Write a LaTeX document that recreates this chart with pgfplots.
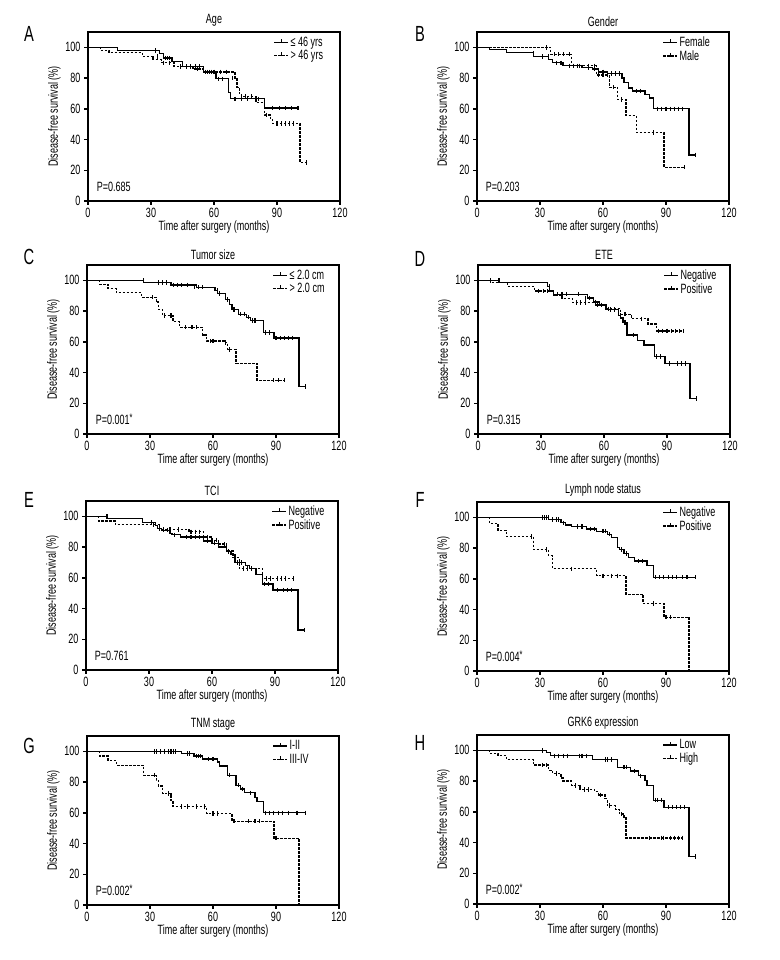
\documentclass[border=0pt]{standalone}
\usepackage{pgfplots}
\pgfplotsset{compat=1.18}
\usepackage{fontspec}
\setmainfont{Liberation Sans}[FakeStretch=0.67]
\newcommand\fs{\fontsize{13.5}{14.5}\selectfont}
\newcommand\sig{\raisebox{3bp}{\fontsize{11}{11}\selectfont *}}
\pgfplotsset{
  legend image code/.code={\draw[#1, line width=1.3bp] (0bp,0bp) -- (14bp,0bp);
    \draw[solid, line width=1.1bp] (7bp,-0.5bp) -- (7bp,3.5bp);},
  km/.style={scale only axis, width=252bp, height=169bp,
    xmin=0, xmax=120, ymin=0, ymax=110,
    xtick={0,30,60,90,120}, ytick={0,20,40,60,80,100},
    tick align=outside, xtick pos=left, ytick pos=left,
    major tick length=4bp,
    axis line style={line width=1.4bp},
    tick style={line width=1.4bp, black},
    xlabel={Time after surgery (months)},
    ylabel={Disease-free survival (\%)},
    label style={font=\fs},
    tick label style={font=\fs},
    xlabel style={yshift=4bp},
    ylabel style={yshift=-2bp},
    /pgf/number format/assume math mode=true,
    title style={font=\fs, inner sep=1bp, yshift=-1.5bp},
    legend style={at={(0.735,0.985)}, anchor=north west, draw=none, fill=none,
      font=\fs, inner sep=0bp, row sep=-1.5bp},
    legend cell align=left},
  sline/.style={const plot, black, line width=1.3bp},
  dline/.style={const plot, black, line width=1.3bp, dash pattern=on 2.5bp off 1.5bp},
  cens/.style={only marks, mark=|, mark size=2.2bp, black, mark options={solid, line width=1.1bp}, forget plot}
}
\begin{document}
\begin{tikzpicture}
\path[use as bounding box] (0,0) rectangle (780bp,960bp);
% ---------------- A
\begin{axis}[km, at={(88bp,759bp)}, anchor=south west, title={Age}]
\addplot[sline] coordinates {(0,100) (14,98) (34,96) (36,93) (40,91) (45,87.5) (55,84) (61,79.5) (67,70.5) (68,66.5) (84,60.5) (100,60.5)};
\addlegendentry{≤ 46 yrs}
\addplot[dline] coordinates {(0,100) (6,98) (10,96.5) (26,94) (31,92) (35,90) (41,87.5) (50,86) (55,84) (70,80) (71,74) (72,70) (73,68) (80,64) (84,56) (87,53) (88,50.5) (101,25) (104,25)};
\addlegendentry{> 46 yrs}
\addplot[cens] coordinates {(32,98) (37,93) (38,93) (39,93) (47,87.5) (49,87.5) (51,87.5) (53,87.5) (57,84) (59,84) (62,79.5) (64,79.5) (70,66.5) (73,66.5) (76,66.5) (81,66.5) (88,60.5) (91,60.5) (94,60.5) (97,60.5) (100,60.5)};
\addplot[cens] coordinates {(33,94) (36,90) (39,90) (44,87.5) (47,87.5) (49,87.5) (52,86) (56,84) (58,84) (60,84) (63,84) (66,84) (69,80) (75,68) (78,68) (85,56) (90,50.5) (92,50.5) (94,50.5) (96,50.5) (98,50.5) (104,25)};
\node[anchor=base west, font=\fs] at (axis cs:2.5,6) {P=0.685};
\end{axis}
% ---------------- B
\begin{axis}[km, at={(477bp,759bp)}, anchor=south west, title={Gender}]
\addplot[sline] coordinates {(0,100) (6,98.5) (14,96.5) (27,94) (34,92) (36,90) (41,88) (50,87) (55,86) (58,84) (62,83) (69,80) (70,77) (72,73.5) (74,71.5) (80,69.5) (82,67) (84,60) (101,30) (104,30)};
\addlegendentry{Female}
\addplot[dline] coordinates {(0,100) (35,95.5) (45,88) (57,82) (63,74) (67,66) (71,55.5) (76,44.5) (89,22) (99,22)};
\addlegendentry{Male}
\addplot[cens] coordinates {(27,96) (31,94) (34,94) (38,90) (40,90) (44,88) (46,88) (49,88) (53,87) (56,86) (60,84) (64,83) (66,83) (68,83) (76,71.5) (78,71.5) (86,60) (88,60) (90,60) (92,60) (94,60) (96,60) (98,60) (104,30)};
\addplot[cens] coordinates {(33,100) (37,95.5) (39,95.5) (41,95.5) (44,95.5) (48,88) (53,88) (56,88) (58,82) (60,82) (62,82) (65,74) (69,66) (84,44.5) (99,22)};
\node[anchor=base west, font=\fs] at (axis cs:2.5,6) {P=0.203};
\end{axis}
% ---------------- C
\begin{axis}[km, at={(87bp,526bp)}, anchor=south west, title={Tumor size}]
\addplot[sline] coordinates {(0,100) (27,98.5) (40,97) (52,95.5) (61,93.5) (62,91.5) (66,87.5) (68,84.5) (69,81) (72,78) (76,76) (78,74) (84,66) (89,62.5) (101,31) (104,31)};
\addlegendentry{≤ 2.0 cm}
\addplot[dline] coordinates {(0,100) (6,97.5) (10,94.5) (14,92) (26,89) (33,86) (34,81) (36,77) (41,73) (44,69.5) (55,64.5) (57,60.5) (66,59.5) (67,55) (71,46) (81,35) (94,35)};
\addlegendentry{> 2.0 cm}
\addplot[cens] coordinates {(27,100) (34,98.5) (36,98.5) (38,98.5) (41,97) (43,97) (45,97) (48,97) (51,95.5) (53,95.5) (55,95.5) (62,93.5) (63,91.5) (67,87.5) (70,81) (73,78) (75,78) (77,76) (79,74) (80,74) (85,66) (87,66) (90,62.5) (92,62.5) (94,62.5) (96,62.5) (98,62.5) (104,31)};
\addplot[cens] coordinates {(31,89) (37,77) (40,77) (47,69.5) (50,69.5) (52,69.5) (59,60.5) (60,60.5) (66,59.5) (68,55) (89,35) (91,35) (94,35)};
\node[anchor=base west, font=\fs] at (axis cs:2.5,6) {P=0.001\sig};
\end{axis}
% ---------------- D
\begin{axis}[km, at={(478bp,526bp)}, anchor=south west, title={ETE}]
\addplot[sline] coordinates {(0,100) (10,98.5) (33,96) (34,93) (36,91) (52,88.5) (55,86) (58,84) (61,81) (67,77) (68,75.5) (69,72.5) (71,64.5) (76,61) (79,58) (84,50.5) (89,46) (101,23) (104,23)};
\addlegendentry{Negative}
\addplot[dline] coordinates {(0,100) (6,98.5) (14,96) (27,93) (36,90.5) (40,88) (45,85.5) (56,84) (61,81.5) (68,78) (73,75) (81,71.5) (85,67) (98,67)};
\addlegendentry{Positive}
\addplot[cens] coordinates {(10,100) (34,96) (38,91) (40,91) (42,91) (48,91) (51,88.5) (53,88.5) (56,86) (63,81) (65,81) (68,77) (70,72.5) (74,64.5) (85,50.5) (87,50.5) (91,46) (95,46) (97,46) (99,46) (104,23)};
\addplot[cens] coordinates {(6,100) (29,93) (31,93) (33,93) (47,85.5) (49,85.5) (51,85.5) (57,84) (59,84) (62,81.5) (70,78) (78,75) (86,67) (88,67) (90,67) (92,67) (94,67) (96,67) (98,67)};
\node[anchor=base west, font=\fs] at (axis cs:2.5,6) {P=0.315};
\end{axis}
% ---------------- E
\begin{axis}[km, at={(86bp,290bp)}, anchor=south west, title={TCI}]
\addplot[sline] coordinates {(0,100) (10,98.5) (27,96) (33,94) (34,92) (36,91) (40,89) (41,88) (45,86.5) (56,84) (60,82.5) (63,80) (67,77) (69,75) (71,70) (76,68) (78,66) (81,62) (84,56) (89,52) (101,26) (104,26)};
\addlegendentry{Negative}
\addplot[dline] coordinates {(0,100) (6,97) (14,94.5) (35,91.5) (49,90) (56,86.5) (60,84.5) (63,82) (67,77.5) (70,73) (73,66) (84,59.5) (99,59.5)};
\addlegendentry{Positive}
\addplot[cens] coordinates {(10,100) (31,96) (35,92) (37,91) (39,91) (42,88) (48,86.5) (50,86.5) (52,86.5) (54,86.5) (58,84) (61,82.5) (68,77) (72,70) (74,70) (85,56) (87,56) (91,52) (94,52) (96,52) (98,52) (104,26)};
\addplot[cens] coordinates {(32,94.5) (37,91.5) (40,91.5) (44,91.5) (50,90) (52,90) (54,90) (58,86.5) (62,84.5) (66,82) (75,66) (77,66) (79,66) (86,59.5) (88,59.5) (91,59.5) (93,59.5) (95,59.5) (99,59.5)};
\node[anchor=base west, font=\fs] at (axis cs:2.5,6) {P=0.761};
\end{axis}
% ---------------- F
\begin{axis}[km, at={(477bp,289bp)}, anchor=south west, title={Lymph node status}]
\addplot[sline] coordinates {(0,100) (34,98.5) (40,96.5) (42,95) (45,94) (52,92.5) (57,91) (62,89) (64,87) (67,80.5) (68,79) (70,76.5) (72,74) (75,71.5) (81,68.5) (84,61) (104,61)};
\addlegendentry{Negative}
\addplot[dline] coordinates {(0,100) (6,96) (10,91.5) (14,87.5) (27,79) (34,75) (36,66.5) (57,62) (71,50) (79,44) (89,35) (101,0) (101,0)};
\addlegendentry{Positive}
\addplot[cens] coordinates {(31,100) (32,100) (33,100) (34,100) (36,98.5) (38,98.5) (39,98.5) (41,96.5) (48,94) (50,94) (54,92.5) (56,92.5) (60,91) (61,91) (63,89) (69,79) (71,76.5) (77,71.5) (79,71.5) (85,61) (87,61) (89,61) (91,61) (93,61) (95,61) (98,61) (100,61) (104,61)};
\addplot[cens] coordinates {(26,87.5) (33,79) (45,66.5) (60,62) (64,62) (67,62) (84,44) (90,35) (92,35)};
\node[anchor=base west, font=\fs] at (axis cs:2.5,6) {P=0.004\sig};
\end{axis}
% ---------------- G
\begin{axis}[km, at={(87bp,55bp)}, anchor=south west, title={TNM stage}]
\addplot[sline] coordinates {(0,100) (45,98.5) (51,97) (55,95) (62,93) (63,90.5) (67,84.5) (71,78) (73,75.5) (75,73) (80,70) (81,67.5) (84,60) (104,60)};
\addlegendentry{I-II}
\addplot[dline] coordinates {(0,100) (6,97) (10,94) (14,91) (27,84.5) (33,81) (34,77.5) (36,72.5) (40,68) (41,64) (57,59.5) (69,54.5) (89,43.5) (101,0) (101,0)};
\addlegendentry{III-IV}
\addplot[cens] coordinates {(32,100) (33,100) (35,100) (37,100) (39,100) (40,100) (41,100) (42,100) (48,98.5) (49,98.5) (52,97) (53,97) (54,97) (58,95) (60,95) (68,84.5) (72,78) (74,75.5) (78,73) (85,60) (87,60) (89,60) (91,60) (93,60) (96,60) (100,60) (104,60)};
\addplot[cens] coordinates {(32,84.5) (39,72.5) (45,64) (48,64) (52,64) (56,64) (60,59.5) (62,59.5) (70,54.5) (77,54.5) (80,54.5) (82,54.5) (90,43.5)};
\node[anchor=base west, font=\fs] at (axis cs:2.5,6) {P=0.002\sig};
\end{axis}
% ---------------- H
\begin{axis}[km, at={(477bp,56bp)}, anchor=south west, title={GRK6 expression}]
\addplot[sline] coordinates {(0,100) (33,98.5) (35,96.5) (55,94) (67,89) (73,86.5) (77,83.5) (80,80.5) (81,77) (84,67.5) (89,63) (101,31) (104,31)};
\addlegendentry{Low}
\addplot[dline] coordinates {(0,100) (6,98) (10,96.5) (14,94) (27,90.5) (34,87) (36,85) (40,82) (41,80) (45,77) (49,74.5) (56,73) (58,71) (61,68.5) (62,64) (66,61.5) (68,58.5) (70,56) (71,43) (98,43)};
\addlegendentry{High}
\addplot[cens] coordinates {(31,100) (37,96.5) (39,96.5) (41,96.5) (43,96.5) (49,96.5) (50,96.5) (52,96.5) (61,94) (62,94) (64,94) (70,89) (71,89) (75,86.5) (78,83.5) (85,67.5) (86,67.5) (88,67.5) (91,63) (93,63) (95,63) (97,63) (99,63) (104,31)};
\addplot[cens] coordinates {(31,90.5) (33,90.5) (38,85) (47,77) (51,74.5) (53,74.5) (59,71) (63,64) (69,58.5) (82,43) (88,43) (89,43) (92,43) (94,43) (96,43) (98,43)};
\node[anchor=base west, font=\fs] at (axis cs:2.5,6) {P=0.002\sig};
\end{axis}
% panel letters
\node[font=\fontsize{22}{22}\selectfont] at (29bp,926bp) {A};
\node[font=\fontsize{22}{22}\selectfont] at (420bp,926bp) {B};
\node[font=\fontsize{22}{22}\selectfont] at (29bp,703bp) {C};
\node[font=\fontsize{22}{22}\selectfont] at (420bp,701bp) {D};
\node[font=\fontsize{22}{22}\selectfont] at (29bp,460bp) {E};
\node[font=\fontsize{22}{22}\selectfont] at (420bp,460bp) {F};
\node[font=\fontsize{22}{22}\selectfont] at (29bp,214bp) {G};
\node[font=\fontsize{22}{22}\selectfont] at (420bp,217bp) {H};
\end{tikzpicture}
\end{document}
